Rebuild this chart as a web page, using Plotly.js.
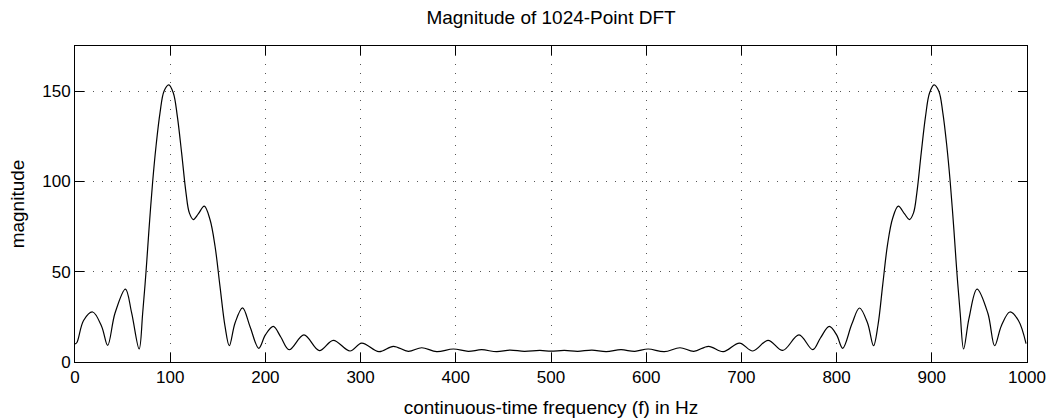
<!DOCTYPE html>
<html>
<head>
<meta charset="utf-8">
<script src="https://cdn.plot.ly/plotly-3.0.1.min.js"></script>
<style>
html,body{margin:0;padding:0;background:#fff;}
#chart{width:1053px;height:420px;}
</style>
</head>
<body>
<div id="chart"></div>
<script>
// Frequency (Hz) and DFT magnitude values
var freqHz = [
  0, 2, 9, 18.5, 28, 34.3, 42, 53, 59.5, 67.4,
  71.1, 74.6, 77.7, 81.6, 85.1, 89.3, 93.5, 98.5, 103.3, 107.5,
  112, 116.6, 120.1, 124.3, 129.5, 135.8, 141.8, 147.1, 152.3, 157.6,
  162.1, 168.1, 176, 183.8, 193, 200, 208.3, 216, 225, 240.5,
  256.6, 271.3, 288.9, 301.1, 319.3, 334.4, 350.1, 364.2, 379.9, 397.4,
  413.1, 427.2, 443, 457, 472, 488.4, 500, 514, 528, 543,
  558, 573.5, 588, 602, 619, 635.5, 650, 665.5, 681, 698,
  712, 728, 743.4, 760.5, 775, 783, 792.3, 800, 806.4, 816,
  824, 832.5, 838.8, 843.5, 848.5, 853.5, 858.8, 864.8, 871.4, 876.6,
  880.8, 884.3, 888.9, 893.4, 897.6, 902.4, 907.4, 911.6, 915.8, 919.3,
  923.2, 926.3, 929.8, 933.4, 939, 947.5, 958.9, 966, 973, 982,
  991, 999
];
var magnitude = [
  10, 10.8, 23, 27.7, 19.7, 9.2, 27, 40.4, 27.2, 7.2,
  27.1, 50, 73.3, 100, 119.5, 138, 150, 153.5, 149, 136,
  115.8, 93.7, 82.6, 78.9, 82, 86.3, 78.9, 64.1, 41.9, 19.7,
  9, 21.6, 30, 19.7, 7.6, 15, 19.7, 14, 6.8, 15,
  6.3, 12, 6.1, 10.5, 5.7, 8.7, 5.9, 7.9, 5.7, 7.2,
  5.9, 6.8, 5.7, 6.6, 5.9, 6.4, 6.0, 6.4, 5.9, 6.6,
  5.7, 6.8, 5.9, 7.2, 5.7, 7.9, 5.9, 8.7, 5.7, 10.5,
  6.1, 12, 6.4, 15, 6.8, 13.3, 19.7, 15, 7.6, 21,
  29.9, 21.6, 9, 20.5, 43, 65, 79.5, 86.3, 82, 78.9,
  82.6, 93.7, 115.8, 136, 149, 153.5, 150, 138, 119.5, 100,
  73.3, 50, 27.1, 7.2, 24, 40.4, 27, 9, 20, 27.7,
  23, 10.2
];
var xTicks = [0, 100, 200, 300, 400, 500, 600, 700, 800, 900, 1000];
var yTicks = [0, 50, 100, 150];

var fontFam = 'Liberation Sans, Arial, Helvetica, sans-serif';

var trace = {
  x: freqHz,
  y: magnitude,
  type: 'scatter',
  mode: 'lines',
  line: {color: '#000', width: 1.2, shape: 'spline', smoothing: 1},
  hoverinfo: 'x+y'
};

var axisCommon = {
  showline: true,
  linecolor: '#000',
  linewidth: 1,
  mirror: 'allticks',
  ticks: 'inside',
  ticklen: 9,
  tickwidth: 1,
  tickcolor: '#000',
  showgrid: true,
  gridcolor: '#555',
  gridwidth: 1,
  griddash: '1px,8px',
  zeroline: false,
  automargin: false,
  tickfont: {family: fontFam, size: 17, color: '#000'}
};

var layout = {
  width: 1053,
  height: 420,
  margin: {l: 75, r: 26, t: 46, b: 58},
  paper_bgcolor: '#fff',
  plot_bgcolor: '#fff',
  showlegend: false,
  title: {
    text: 'Magnitude of 1024-Point DFT',
    font: {family: fontFam, size: 19, color: '#000'},
    x: 0.5, xref: 'paper', xanchor: 'center',
    y: 0.958, yref: 'container', yanchor: 'middle'
  },
  xaxis: Object.assign({}, axisCommon, {
    range: [0, 1000],
    tickvals: xTicks,
    ticktext: xTicks.map(String),
    title: {text: 'continuous-time frequency (f) in Hz', font: {family: fontFam, size: 19, color: '#000'}, standoff: 14}
  }),
  yaxis: Object.assign({}, axisCommon, {
    range: [0, 175],
    tickvals: yTicks,
    ticktext: yTicks.map(String),
    title: {text: 'magnitude', font: {family: fontFam, size: 19, color: '#000'}, standoff: 12}
  })
};

Plotly.newPlot('chart', [trace], layout, {displayModeBar: false, staticPlot: true});
</script>
</body>
</html>
